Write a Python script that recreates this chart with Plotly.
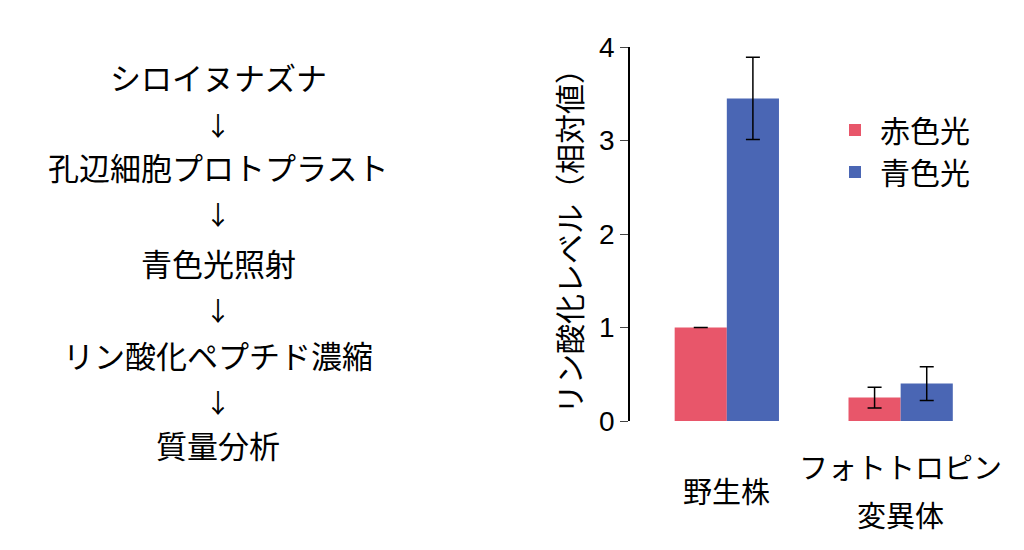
import plotly.graph_objects as go

categories = ["野生株", "フォトトロピン変異体"]
category_lines = [["野生株"], ["フォトトロピン", "変異体"]]
red_vals = [1.0, 0.25]
red_err = [float("nan"), 0.11]
blue_vals = [3.45, 0.4]
blue_err = [0.44, 0.18]
steps = ["シロイヌナズナ", "↓", "孔辺細胞プロトプラスト", "↓", "青色光照射", "↓",
         "リン酸化ペプチド濃縮", "↓", "質量分析"]
step_y = [68, 116, 158, 206, 254, 301, 346, 393, 436]

F = "Noto Sans CJK JP"
fig = go.Figure()
fig.add_bar(x=categories, y=red_vals, name="赤色光", marker_color="#e8566a", marker_line_width=0,
            error_y=dict(type="data", array=red_err, color="black", thickness=1.5, width=7))
fig.add_bar(x=categories, y=blue_vals, name="青色光", marker_color="#4a66b4", marker_line_width=0,
            error_y=dict(type="data", array=blue_err, color="black", thickness=1.5, width=7))

anns = []
for t, yy in zip(steps, step_y):
    anns.append(dict(text=t, x=210/1024, y=1-yy/550, xref="paper", yref="paper",
                     showarrow=False, font=dict(size=31 if t != "↓" else 26, family=F, color="black"),
                     xanchor="center", yanchor="middle"))
for cat, lines in zip(categories, category_lines):
    ys = [482] if len(lines) == 1 else [458, 506]
    for ln, yy in zip(lines, ys):
        anns.append(dict(text=ln, x=cat, xref="x", y=1-yy/550, yref="paper", showarrow=False,
                         font=dict(size=29, family=F, color="black"), yanchor="middle"))
anns.append(dict(text="リン酸化レベル（相対値）", x=560/1024, y=1-226/550, xref="paper", yref="paper",
                 textangle=-90, showarrow=False, font=dict(size=30, family=F, color="black")))
fig.update_layout(
    width=1024, height=550, margin=dict(l=0, r=0, t=0, b=0),
    paper_bgcolor="white", plot_bgcolor="white",
    barmode="group", bargap=0.4, bargroupgap=0,
    font=dict(family=F, color="black"),
    annotations=anns,
    xaxis=dict(domain=[622/1024, 990/1024], range=[-0.557, 1.56], showline=False,
               showticklabels=False, ticks="", automargin=False),
    yaxis=dict(domain=[1-413/550, 1-39/550], range=[0, 4], dtick=1, showline=True,
               linecolor="black", linewidth=1.5, ticks="outside", ticklen=8, automargin=False,
               tickfont=dict(size=28, family="Liberation Sans"), showgrid=False, zeroline=False),
    legend=dict(x=822/1024, y=1-96/550, xanchor="left", yanchor="top",
                font=dict(size=30, family=F), itemwidth=40, tracegroupgap=10),
)
fig.write_html("out.html")
